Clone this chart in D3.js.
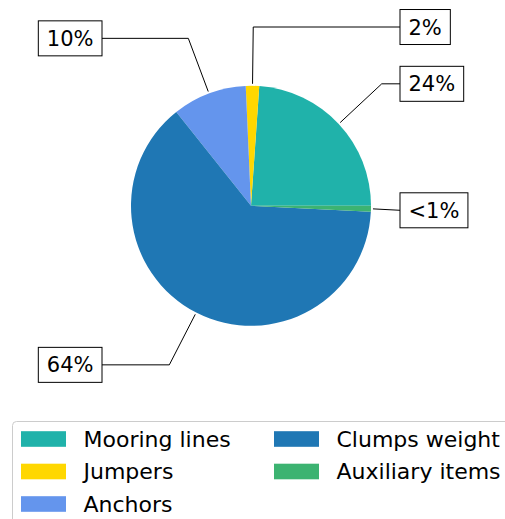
<!DOCTYPE html>
<html>
<head>
<meta charset="utf-8">
<script src="https://cdn.jsdelivr.net/npm/d3@7"></script>
<style>
  body { margin: 0; background: #fff; }
  svg { display: block; font-family: 'DejaVu Sans', sans-serif; }
</style>
</head>
<body>
<div id="chart"></div>
<script>
var categories = ['Mooring lines', 'Jumpers', 'Anchors', 'Clumps weight', 'Auxiliary items'];
var shares = [23.9, 1.8, 10.0, 63.5, 0.8];
var pctLabels = ['24%', '2%', '10%', '64%', '<1%'];
var colors = ['#20b2aa', '#ffd700', '#6495ed', '#1f77b4', '#3cb371'];

var W = 505, H = 519;
var cx = 251, cy = 205.8, r = 120;

var svg = d3.select('#chart').append('svg').attr('width', W).attr('height', H);

// matplotlib-style: start at 3 o'clock, go counter-clockwise
var pie = d3.pie().sort(null).value(function(d) { return d; })
  .startAngle(Math.PI / 2).endAngle(Math.PI / 2 - 2 * Math.PI);
var arcs = pie(shares);
var arc = d3.arc().innerRadius(0).outerRadius(r);

var g = svg.append('g').attr('transform', 'translate(' + cx + ',' + cy + ')');

// annotations (drawn under the wedges)
var ann = g.append('g');
g.append('g').selectAll('path').data(arcs).join('path')
  .attr('d', arc)
  .attr('fill', function(d, i) { return colors[i]; });

arcs.forEach(function(d, i) {
  var a = (d.startAngle + d.endAngle) / 2;
  var ux = Math.sin(a), uy = Math.cos(a); // math coords, y up
  var side = ux >= 0 ? 1 : -1;
  var px = r * ux, py = -r * uy;          // point on the wedge edge (screen)
  var ty = -1.49 * r * uy;                // label centre y (screen)
  var edgeX = side * 149;                 // box edge nearest the pie

  var t = ann.append('text')
    .attr('y', ty).attr('dy', '0.36em')
    .attr('font-size', '21px').attr('fill', '#000')
    .text(pctLabels[i]);
  var tw = t.node().getComputedTextLength();
  var padX = 8.5, bh = 35;
  var bw = tw + 2 * padX;
  var bx = side > 0 ? edgeX : edgeX - bw;
  t.attr('x', bx + padX);

  // leader: horizontal from box, then along the wedge angle to the edge
  var sx = px + 2 * ux, sy = py - 2 * uy;
  var k = (sy - ty) / uy;
  var kx = sx + k * ux;
  var pts;
  if (Math.abs(uy) < 1e-6 || k < 0 || (side > 0 ? kx > edgeX : kx < edgeX)) {
    pts = [[edgeX, ty], [sx, sy]];
  } else {
    pts = [[edgeX, ty], [kx, ty], [sx, sy]];
  }
  ann.append('path')
    .attr('d', d3.line()(pts))
    .attr('fill', 'none').attr('stroke', '#000').attr('stroke-width', 1);

  ann.append('rect')
    .attr('x', bx).attr('y', ty - bh / 2)
    .attr('width', bw).attr('height', bh)
    .attr('fill', '#fff').attr('stroke', '#000').attr('stroke-width', 1);
  t.raise();
});

// legend
var leg = svg.append('g');
leg.append('rect')
  .attr('x', 12.5).attr('y', 421.5).attr('width', 520).attr('height', 130)
  .attr('rx', 4).attr('fill', '#fff').attr('stroke', '#cccccc').attr('stroke-width', 1);

var colX = [21, 274], rowY = [439, 471.5, 504];
categories.forEach(function(c, i) {
  var col = i < 3 ? 0 : 1, row = i < 3 ? i : i - 3;
  var x = colX[col], y = rowY[row];
  leg.append('rect')
    .attr('x', x).attr('y', y - 7.8).attr('width', 45).attr('height', 15.6)
    .attr('fill', colors[i]);
  leg.append('text')
    .attr('x', x + 62.5).attr('y', y).attr('dy', '0.36em')
    .attr('font-size', '22px').attr('fill', '#000')
    .text(c);
});
</script>
</body>
</html>
